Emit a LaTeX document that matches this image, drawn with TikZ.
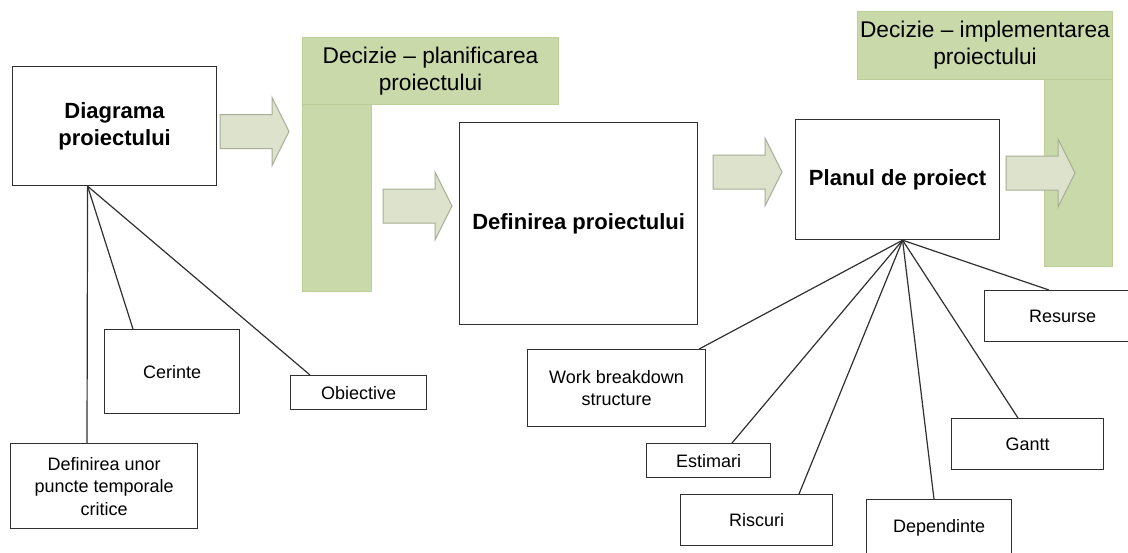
\documentclass[tikz,border=0pt]{standalone}
\usepackage{fontspec}
\setmainfont{Liberation Sans}
\definecolor{greenfill}{HTML}{CAD9A9}
\definecolor{greenline}{HTML}{BCCF98}
\definecolor{arrfill}{HTML}{DDE2CD}
\definecolor{arrline}{HTML}{A7AE95}
\definecolor{boxline}{HTML}{303030}
\tikzset{
  box/.style={draw=boxline, line width=1.2pt, fill=white, align=center, inner sep=0pt, anchor=north west, text=black},
  bigtext/.style={font=\fontsize{22}{27}\selectfont\bfseries},
  smalltext/.style={font=\fontsize{18}{22.5}\selectfont},
  greenbox/.style={fill=greenfill, draw=greenline, line width=1pt, inner sep=0pt, anchor=north west, align=center, font=\fontsize{22.7}{27}\selectfont},
  conn/.style={draw=boxline, line width=1.2pt},
  barrow/.pic={\draw[fill=arrfill, draw=arrline, line width=1pt, line join=miter]
     (0,-17) -- (52,-17) -- (52,-34) -- (69,0) -- (52,34) -- (52,17) -- (0,17) -- cycle;}
}
\begin{document}
\begin{tikzpicture}[x=1pt, y=-1pt]
\useasboundingbox (0,0) rectangle (1128,552);
\clip (0,0) rectangle (1128,552);
\fill[white] (0,0) rectangle (1128,552);

% green decision bars
\node[greenbox, minimum width=69pt, minimum height=187pt] (gl2) at (302,104) {};
\node[greenbox, minimum width=256pt, minimum height=67pt] (gl1) at (302,37) {Decizie – planificarea\\proiectului};
\node[greenbox, minimum width=68pt, minimum height=187pt] (gr2) at (1044,79) {};
\node[greenbox, minimum width=255pt, minimum height=68pt] (gr1) at (857,11) {Decizie – implementarea\\proiectului};

% block arrows
\pic at (220,131.5) {barrow};
\pic at (383,206) {barrow};
\pic at (713,172) {barrow};
\pic at (1006,173) {barrow};

% main boxes
\node[box, bigtext, minimum width=204pt, minimum height=119pt] (diag) at (12,66) {Diagrama\\proiectului};
\node[box, bigtext, minimum width=238pt, minimum height=202pt] (defp) at (459,122) {Definirea proiectului};
\node[box, bigtext, minimum width=204pt, minimum height=120pt] (plan) at (795,119) {Planul de proiect};

% left sub boxes
\node[box, smalltext, minimum width=135pt, minimum height=84pt] (cer) at (104,329) {Cerinte};
\node[box, smalltext, minimum width=136pt, minimum height=34pt] (obi) at (290,375) {Obiective};
\node[box, smalltext, minimum width=187pt, minimum height=85pt] (dpt) at (10,443) {Definirea unor\\puncte temporale\\critice};

% right sub boxes
\node[box, smalltext, minimum width=178pt, minimum height=77pt] (wbs) at (527,349) {Work breakdown\\structure};
\node[box, smalltext, minimum width=124pt, minimum height=34pt] (est) at (646,443) {Estimari};
\node[box, smalltext, minimum width=152pt, minimum height=51pt] (ris) at (680,494) {Riscuri};
\node[box, smalltext, minimum width=145pt, minimum height=56pt] (dep) at (866,499) {Dependinte};
\node[box, smalltext, minimum width=152pt, minimum height=51pt] (gan) at (951,418) {Gantt};
\node[box, smalltext, minimum width=156pt, minimum height=51pt] (res) at (984,290) {Resurse};

% connector hubs
\coordinate (dhub) at ([xshift=-27pt]diag.south);
\coordinate (phub) at ([xshift=5pt]plan.south);

\draw[conn] (dhub) -- ([xshift=29pt]cer.north west);
\draw[conn] (dhub) -- ([xshift=20pt]obi.north west);
\draw[conn] (dhub) -- ([xshift=77pt]dpt.north west);

\draw[conn] (phub) -- ([xshift=-7pt]wbs.north east);
\draw[conn] (phub) -- ([xshift=86pt]est.north west);
\draw[conn] (phub) -- ([xshift=119pt]ris.north west);
\draw[conn] (phub) -- ([xshift=68pt]dep.north west);
\draw[conn] (phub) -- ([xshift=67pt]gan.north west);
\draw[conn] (phub) -- ([xshift=65pt]res.north west);
\end{tikzpicture}
\end{document}
